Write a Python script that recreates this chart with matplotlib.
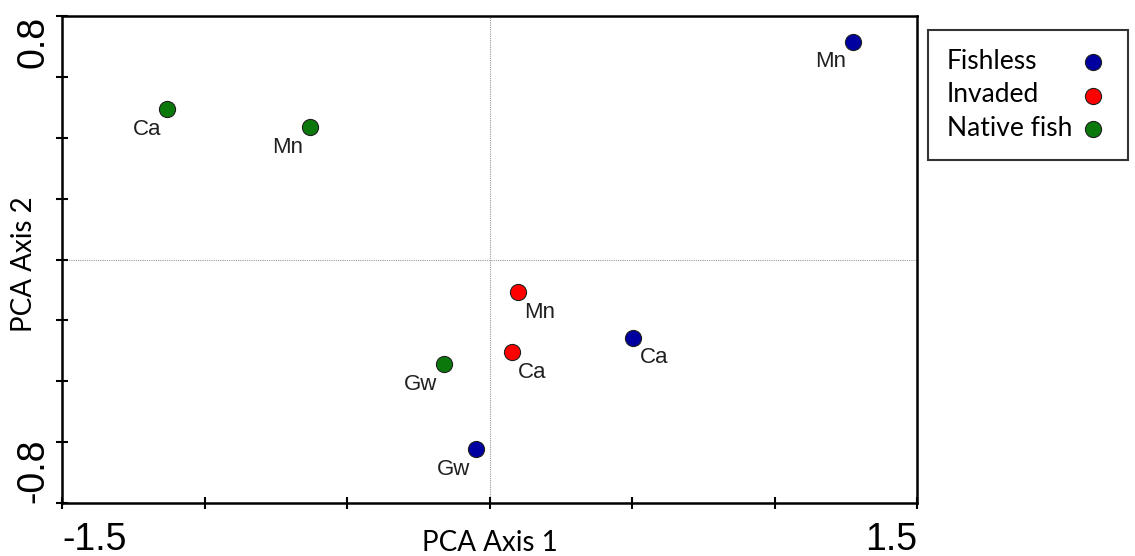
import numpy as np
import matplotlib.pyplot as plt

plt.rcParams['font.family'] = 'Liberation Sans'

# PCA scores
groups = ["Fishless", "Invaded", "Native fish"]
colors = ["#0000a0", "#ff0000", "#0a780a"]

fishless_x = [1.274, 0.505, -0.047]
fishless_y = [0.716, -0.257, -0.622]
fishless_lab = ["Mn", "Ca", "Gw"]

invaded_x = [0.099, 0.078]
invaded_y = [-0.107, -0.304]
invaded_lab = ["Mn", "Ca"]

native_x = [-1.130, -0.631, -0.160]
native_y = [0.493, 0.436, -0.343]
native_lab = ["Ca", "Mn", "Gw"]

# which side the site label goes (-1 = left, 1 = right)
fishless_side = [-1, 1, -1]
invaded_side = [1, 1]
native_side = [-1, -1, -1]

fig = plt.figure(figsize=(11.35, 5.56), dpi=100)
ax = fig.add_axes([62/1135, 1-503/556, (917-62)/1135, (503-16)/556])

ax.axhline(0, color="#999999", lw=0.8, ls=(0, (1, 1)), zorder=1)
ax.axvline(0, color="#999999", lw=0.8, ls=(0, (1, 1)), zorder=1)

series = [(fishless_x, fishless_y, fishless_lab, fishless_side),
          (invaded_x, invaded_y, invaded_lab, invaded_side),
          (native_x, native_y, native_lab, native_side)]

handles = []
for (xs, ys, labs, sides), c, g in zip(series, colors, groups):
    h = ax.scatter(xs, ys, s=135, color=c, edgecolors="#202020", linewidths=0.8,
                   zorder=3, label=g)
    handles.append(h)
    for x, y, lab, sd in zip(xs, ys, labs, sides):
        ax.annotate(lab, (x, y), xytext=(4.5 * sd, -7.0), textcoords="offset points",
                    ha="left" if sd > 0 else "right", va="top", fontsize=16,
                    color="#202020")

ax.set_xlim(-1.5, 1.5)
ax.set_ylim(-0.8, 0.8)

xt = np.arange(-1.5, 1.51, 0.5)
ax.set_xticks(xt)
ax.set_xticklabels(["-1.5", "", "", "", "", "", "1.5"], fontsize=27)
xl = ax.get_xticklabels()
xl[0].set_ha("left")
xl[-1].set_ha("right")

yt = np.linspace(-0.8, 0.8, 9)
ax.set_yticks(yt)
ax.set_yticklabels(["-0.8", "", "", "", "", "", "", "", "0.8"], fontsize=27,
                   rotation=90)
yl = ax.get_yticklabels()
yl[0].set_va("bottom")
yl[-1].set_va("top")
for t in yl:
    t.set_ha("right")

ax.tick_params(direction="inout", length=9, width=1.5)
ax.tick_params(axis="x", pad=9)
ax.tick_params(axis="y", pad=3)
for sp in ax.spines.values():
    sp.set_linewidth(1.8)

ax.set_xlabel("PCA Axis 1", family="Lato", fontsize=20)
ax.set_ylabel("PCA Axis 2", family="Lato", fontsize=20)
ax.xaxis.set_label_coords(0.5, -0.055)
ax.yaxis.set_label_coords(-0.029, 0.49)

leg = ax.legend(handles=handles, loc="upper left",
                bbox_to_anchor=(928/1135, 1-30/556), bbox_transform=fig.transFigure,
                markerfirst=False, frameon=True, fancybox=False, borderaxespad=0,
                prop={"family": "Lato", "size": 19}, handletextpad=0.2,
                labelspacing=0.32, borderpad=0.72, handlelength=1.2,
                scatterpoints=1)
leg.get_frame().set_edgecolor("black")
leg.get_frame().set_linewidth(1.5)

# keep legend text left aligned with the markers in one column on the right
fig.canvas.draw()
rend = fig.canvas.get_renderer()
rows = [r for col in leg._legend_handle_box.get_children() for r in col.get_children()]
widths = [r.get_children()[0].get_window_extent(rend).width for r in rows]
for r, w in zip(rows, widths):
    r.sep += (max(widths) - w) * 72 / fig.dpi

fig.savefig("out.png", dpi=100)
